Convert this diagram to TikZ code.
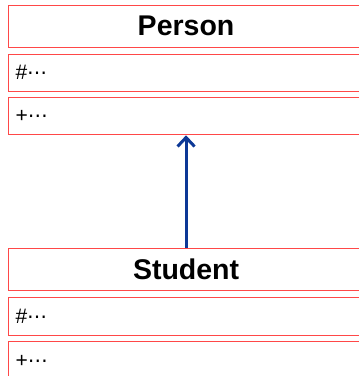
\documentclass[tikz,border=0pt]{standalone}
\usepackage{fontspec}
\setmainfont{Liberation Sans}
\newfontfamily\dotsfont{DejaVu Sans}
\usetikzlibrary{arrows.meta}
\definecolor{boxred}{HTML}{FF4848}
\definecolor{arrowblue}{HTML}{0C3896}
\tikzset{
  umlbox/.style={draw=boxred, line width=1.1pt, rectangle, minimum width=355pt, inner sep=0pt, anchor=north west},
  titlebox/.style={umlbox, font=\fontsize{28.5}{28.5}\selectfont\bfseries},
  memberbox/.style={umlbox, align=left, text width=341pt, font=\fontsize{21}{21}\selectfont},
  inherit/.style={draw=arrowblue, line width=3pt, -{Straight Barb[length=9pt,width=17pt,line width=3pt]}}
}
\newcommand{\mydots}{{\dotsfont\fontsize{20}{20}\selectfont ⋯}}
\begin{document}
\begin{tikzpicture}[x=1pt,y=-1pt]
\useasboundingbox (0,0) rectangle (359,376);
\node[titlebox, minimum height=42pt] (p1) at (8,4.5) {Person};
\node[memberbox, minimum height=37.5pt] (p2) at (8,53.5) {\#\mydots};
\node[memberbox, minimum height=37.5pt] (p3) at (8,96.7) {+\mydots};
\node[titlebox, minimum height=42.5pt] (s1) at (8,247.5) {Student};
\node[memberbox, minimum height=37.5pt] (s2) at (8,297.3) {\#\mydots};
\node[memberbox, minimum height=40pt] (s3) at (8,340.7) {+\mydots};
\draw[inherit] (s1.north) -- (p3.south);
\end{tikzpicture}
\end{document}
